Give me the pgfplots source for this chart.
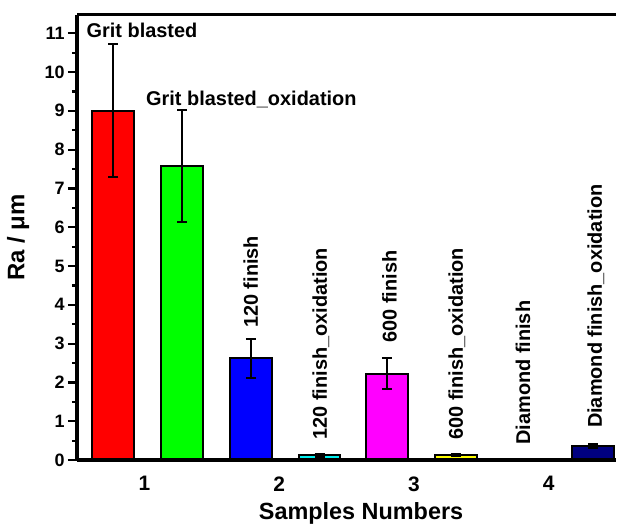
\documentclass[border=0pt]{standalone}
\usepackage{pgfplots}
\pgfplotsset{compat=1.18}
\usepackage{fontspec}
\setmainfont{Liberation Sans}
\definecolor{redbar}{RGB}{255,0,0}
\definecolor{greenbar}{RGB}{0,255,0}
\definecolor{bluebar}{RGB}{0,0,255}
\definecolor{cyanbar}{RGB}{0,240,240}
\definecolor{magentabar}{RGB}{255,0,255}
\definecolor{yellowbar}{RGB}{255,255,0}
\definecolor{navybar}{RGB}{0,0,128}
\begin{document}
\begin{tikzpicture}
\pgfplotsset{
  mybar/.style={ybar, bar width=0.31, draw=black, line width=2bp,
    error bars/y dir=both, error bars/y explicit,
    error bars/error bar style={line width=2bp, black},
    error bars/error mark options={rotate=90, mark size=5bp, line width=2bp, black}},
}
\begin{axis}[
  at={(77bp,64bp)}, anchor=south west,
  scale only axis, width=539bp, height=445bp,
  xmin=0.5, xmax=4.5, ymin=0, ymax=11.47,
  axis x line=box, axis y line=left,
  axis line style={-, line width=3bp},
  axis on top,
  xtick={1,2,3,4}, ytick={0,1,...,11},
  minor ytick={0.5,1.5,...,10.5},
  tick align=outside, major tick length=9bp, minor tick length=5bp,
  xtick style={draw=none},
  ytick style={line width=2.2bp, black},
  minor tick style={line width=2.2bp, black},
  /pgf/number format/assume math mode=true,
  yticklabel style={font=\fontsize{18}{18}\selectfont\bfseries},
  xticklabel style={font=\fontsize{21}{21}\selectfont\bfseries, yshift=-4bp},
  ylabel={Ra / μm},
  xlabel={Samples Numbers},
  every axis y label/.style={at={(axis description cs:-0.109,0.5)}, rotate=90, anchor=center,
    font=\fontsize{24}{24}\selectfont\bfseries},
  every axis x label/.style={at={(axis description cs:0.527,-0.1326)}, anchor=base,
    font=\fontsize{23.5}{24}\selectfont\bfseries},
  clip=false,
]
\addplot[mybar, fill=redbar] coordinates {(0.77,9.0) +- (0,1.71)};
\addplot[mybar, fill=greenbar] coordinates {(1.28,7.57) +- (0,1.44)};
\addplot[mybar, fill=bluebar] coordinates {(1.79,2.62) +- (0,0.50)};
\addplot[mybar, fill=cyanbar] coordinates {(2.30,0.12) +- (0,0.03)};
\addplot[mybar, fill=magentabar] coordinates {(2.80,2.22) +- (0,0.40)};
\addplot[mybar, fill=yellowbar] coordinates {(3.31,0.13) +- (0,0.03)};
\addplot[mybar, fill=white, draw=none] coordinates {(3.82,0) +- (0,0)};
\addplot[mybar, fill=navybar] coordinates {(4.33,0.36) +- (0,0.06)};

\begin{scope}[every node/.style={font=\fontsize{20}{20}\selectfont\bfseries, inner sep=0pt}]
\node[anchor=base west] at (axis cs:0.570,10.88) {Grit blasted};
\node[anchor=base west] at (axis cs:1.012,9.15) {Grit blasted\_oxidation};
\node[anchor=west, rotate=90] at (axis cs:1.79,3.40) {120 finish};
\node[anchor=west, rotate=90] at (axis cs:2.31,0.52) {120 finish\_oxidation};
\node[anchor=west, rotate=90] at (axis cs:2.82,3.02) {600 finish};
\node[anchor=west, rotate=90] at (axis cs:3.32,0.52) {600 finish\_oxidation};
\node[anchor=west, rotate=90] at (axis cs:3.81,0.39) {Diamond finish};
\node[anchor=west, rotate=90] at (axis cs:4.35,0.82) {Diamond finish\_oxidation};
\end{scope}
\end{axis}
\pgfresetboundingbox
\path[use as bounding box] (0,0) rectangle (617bp,524bp);
\end{tikzpicture}
\end{document}
